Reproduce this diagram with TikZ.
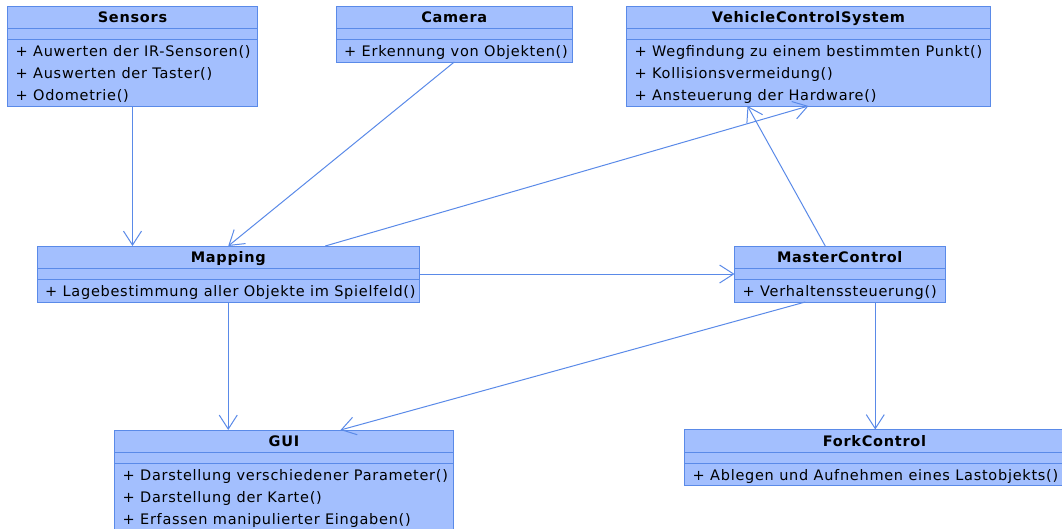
\documentclass[tikz,border=0pt]{standalone}
\usepackage{fontspec}
\setmainfont[LetterSpace=5]{DejaVu Sans}
\usetikzlibrary{arrows.meta,calc}
\definecolor{umlfill}{HTML}{A3BFFE}
\definecolor{umlline}{HTML}{5A8AE8}
\begin{document}
\begin{tikzpicture}[x=1pt,y=-1pt,
  cls/.style={draw=umlline, fill=umlfill, line width=1pt, anchor=north west,
    inner sep=0pt, outer sep=0pt},
  sep/.style={draw=umlline, line width=1pt},
  hdr/.style={anchor=base, inner sep=0pt, font=\fontsize{14.5}{17}\selectfont\bfseries},
  meth/.style={anchor=base west, inner sep=0pt, font=\fontsize{14.5}{17}\selectfont},
  assoc/.style={draw=umlline, line width=1pt, -{Straight Barb[length=14pt,width=18pt]}}]
\useasboundingbox (0,0) rectangle (1062,528);

% class boxes
\node[cls, minimum width=250pt, minimum height=100pt] (sensors) at (7.5,6) {};
\node[cls, minimum width=236.5pt, minimum height=56pt] (camera) at (336,6) {};
\node[cls, minimum width=364pt, minimum height=100pt] (vcs) at (626.5,6) {};
\node[cls, minimum width=382.5pt, minimum height=56pt] (mapping) at (37,246) {};
\node[cls, minimum width=210.5pt, minimum height=56pt] (master) at (734.5,246) {};
\node[cls, minimum width=339pt, minimum height=102pt] (gui) at (114.5,430) {};
\node[cls, minimum width=380pt, minimum height=55.5pt] (fork) at (684.5,429.5) {};

% compartment separators
\foreach \c in {sensors,camera,vcs,mapping,master,gui,fork}{
  \draw[sep] ([yshift=-22.5pt]\c.north west) -- ([yshift=-22.5pt]\c.north east);
  \draw[sep] ([yshift=-33.5pt]\c.north west) -- ([yshift=-33.5pt]\c.north east);
}

% class names
\node[hdr] (sensors-n) at ([yshift=-16.5pt]sensors.north) {Sensors};
\node[hdr] (camera-n) at ([yshift=-16.5pt]camera.north) {Camera};
\node[hdr] (vcs-n) at ([yshift=-16.5pt]vcs.north) {VehicleControlSystem};
\node[hdr] (mapping-n) at ([yshift=-16.5pt]mapping.north) {Mapping};
\node[hdr] (master-n) at ([yshift=-16.5pt]master.north) {MasterControl};
\node[hdr] (gui-n) at ([yshift=-16.5pt]gui.north) {GUI};
\node[hdr] (fork-n) at ([yshift=-16.5pt]fork.north) {ForkControl};

% operations
\node[meth] (sensors-a) at ([xshift=8pt,yshift=-50.5pt]sensors.north west) {+ Auwerten der IR-Sensoren()};
\node[meth] (sensors-b) at ([xshift=8pt,yshift=-72.5pt]sensors.north west) {+ Auswerten der Taster()};
\node[meth] (sensors-c) at ([xshift=8pt,yshift=-94.5pt]sensors.north west) {+ Odometrie()};
\node[meth] (camera-a) at ([xshift=8pt,yshift=-50.5pt]camera.north west) {+ Erkennung von Objekten()};
\node[meth] (vcs-a) at ([xshift=8pt,yshift=-50.5pt]vcs.north west) {+ Wegfindung zu einem bestimmten Punkt()};
\node[meth] (vcs-b) at ([xshift=8pt,yshift=-72.5pt]vcs.north west) {+ Kollisionsvermeidung()};
\node[meth] (vcs-c) at ([xshift=8pt,yshift=-94.5pt]vcs.north west) {+ Ansteuerung der Hardware()};
\node[meth] (mapping-a) at ([xshift=8pt,yshift=-50.5pt]mapping.north west) {+ Lagebestimmung aller Objekte im Spielfeld()};
\node[meth] (master-a) at ([xshift=8pt,yshift=-50.5pt]master.north west) {+ Verhaltenssteuerung()};
\node[meth] (gui-a) at ([xshift=8pt,yshift=-50.5pt]gui.north west) {+ Darstellung verschiedener Parameter()};
\node[meth] (gui-b) at ([xshift=8pt,yshift=-72.5pt]gui.north west) {+ Darstellung der Karte()};
\node[meth] (gui-c) at ([xshift=8pt,yshift=-94.5pt]gui.north west) {+ Erfassen manipulierter Eingaben()};
\node[meth] (fork-a) at ([xshift=8pt,yshift=-50.5pt]fork.north west) {+ Ablegen und Aufnehmen eines Lastobjekts()};

% associations
\draw[assoc] (sensors.south) -- (sensors.south |- mapping.north);
\draw[assoc] (camera.south) -- (mapping.north);
\draw[assoc] ([xshift=97pt]mapping.north) -- (vcs.south);
\draw[assoc] ([xshift=-14.5pt]master.north) -- ([xshift=-61pt]vcs.south);
\draw[assoc] (mapping.east) -- (master.west);
\draw[assoc] (mapping.south) -- (mapping.south |- gui.north);
\draw[assoc] ([xshift=-34.5pt]master.south) -- ([xshift=56.5pt]gui.north);
\draw[assoc] ([xshift=35.5pt]master.south) -- ([xshift=35.5pt]master.south |- fork.north);
\end{tikzpicture}
\end{document}
